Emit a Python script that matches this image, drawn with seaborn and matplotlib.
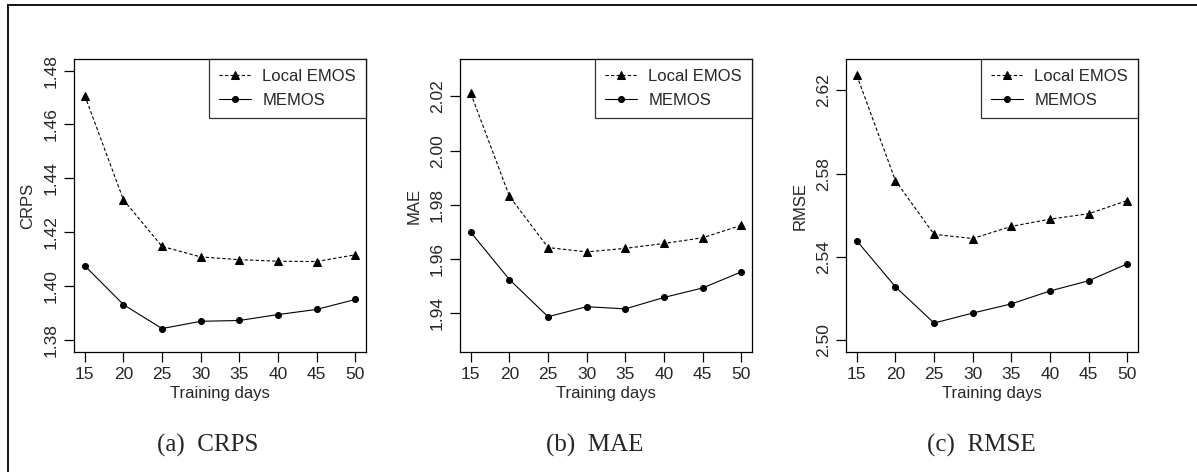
import numpy as np
import pandas as pd
import matplotlib
matplotlib.use("Agg")
import matplotlib.pyplot as plt
from matplotlib.lines import Line2D
import seaborn as sns

# data
days = [15, 20, 25, 30, 35, 40, 45, 50]
crps_local = [1.4707, 1.4320, 1.4147, 1.4108, 1.4098, 1.4092, 1.4091, 1.4116]
crps_memos = [1.4075, 1.3931, 1.3842, 1.3869, 1.3872, 1.3894, 1.3913, 1.3950]
mae_local = [2.0211, 1.9832, 1.9643, 1.9627, 1.9640, 1.9658, 1.9679, 1.9725]
mae_memos = [1.9699, 1.9525, 1.9388, 1.9425, 1.9417, 1.9459, 1.9494, 1.9553]
rmse_local = [2.6272, 2.5767, 2.5509, 2.5489, 2.5547, 2.5582, 2.5608, 2.5671]
rmse_memos = [2.5478, 2.5257, 2.5083, 2.5131, 2.5175, 2.5237, 2.5286, 2.5367]

panels = [
    ("CRPS", crps_local, crps_memos, (1.3755, 1.4843), np.arange(1.38, 1.481, 0.02), "(a)  CRPS"),
    ("MAE", mae_local, mae_memos, (1.9258, 2.0338), np.arange(1.94, 2.021, 0.02), "(b)  MAE"),
    ("RMSE", rmse_local, rmse_memos, (2.4944, 2.6351), np.arange(2.50, 2.621, 0.04), "(c)  RMSE"),
]

sns.set_style("ticks")
plt.rcParams['font.family'] = ['Liberation Sans', 'DejaVu Sans']

fig = plt.figure(figsize=(11.97, 4.72), dpi=100)
lefts = [74, 460, 846]
captions_x = [208, 595, 981]

for i, (name, loc, mem, ylim, yticks, cap) in enumerate(panels):
    ax = fig.add_axes([lefts[i] / 1197, 120 / 472, 292 / 1197, 293 / 472])
    df = pd.DataFrame({'days': days, 'local': loc, 'memos': mem})
    sns.lineplot(data=df, x='days', y='local', ax=ax, color='black', lw=0.8,
                 linestyle=(0, (3, 2)), marker='^', markersize=5.5, markeredgecolor='black',
                 label='Local EMOS')
    sns.lineplot(data=df, x='days', y='memos', ax=ax, color='black', lw=0.8,
                 linestyle='-', marker='o', markersize=4.3, markeredgecolor='black',
                 label='MEMOS')
    ax.set_xlim(13.6, 51.4)
    ax.set_ylim(*ylim)
    ax.set_xticks(days)
    ax.set_yticks(yticks)
    ax.set_yticklabels(["%.2f" % v for v in yticks], rotation=90, va='center')
    ax.tick_params(axis='both', labelsize=12.5, length=7, width=0.9, color='black', pad=4)
    for s in ax.spines.values():
        s.set_visible(True)
        s.set_linewidth(0.9)
        s.set_color('black')
    ax.set_xlabel('Training days', fontsize=12, labelpad=3)
    ax.set_ylabel(name, fontsize=12, labelpad=6)
    leg = ax.legend(loc='upper right', borderaxespad=0, fontsize=12, frameon=True,
                    fancybox=False, handlelength=1.9, borderpad=0.6, labelspacing=0.55,
                    handletextpad=0.7)
    leg.get_frame().set_edgecolor('black')
    leg.get_frame().set_linewidth(0.9)
    fig.text(captions_x[i] / 1197, 1 - 445 / 472, cap, ha='center', va='center',
             fontsize=18, family=['Liberation Serif', 'DejaVu Serif'])

# outer frame (left and top edges)
fig.add_artist(Line2D([8 / 1197, 8 / 1197], [0, 1 - 5 / 472], color='black', lw=1.3))
fig.add_artist(Line2D([8 / 1197, 1], [1 - 5 / 472, 1 - 5 / 472], color='black', lw=1.3))

fig.savefig('out.png', dpi=100)
